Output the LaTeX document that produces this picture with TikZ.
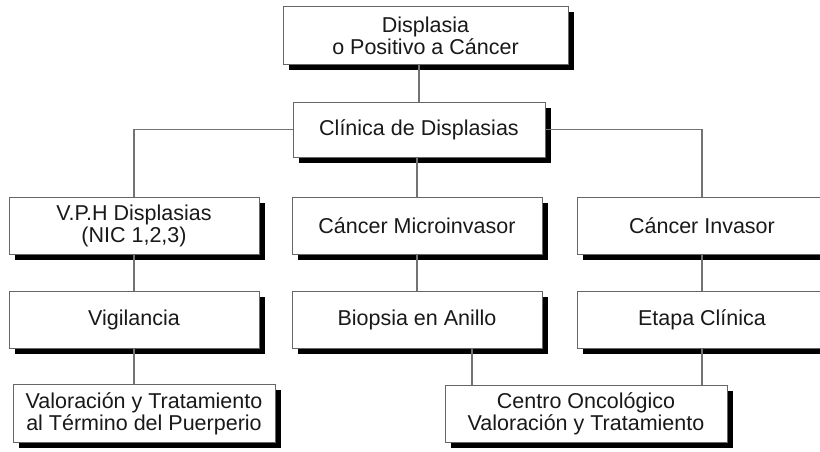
\documentclass[tikz,border=0pt]{standalone}
\usepackage{fontspec}
\setmainfont{Liberation Sans}
\definecolor{gris}{gray}{0.45}
\begin{document}
\begin{tikzpicture}[x=1pt, y=-1pt, node distance=94pt,
  caja/.style={draw=black!60, line width=1pt, fill=white, minimum width=250pt, minimum height=57pt,
    align=center, inner sep=0pt, text=black!90, font=\fontsize{21.5}{22}\selectfont},
  sombra/.style={fill=black, draw=none, inner sep=0pt, minimum width=250pt, minimum height=57pt},
  linea/.style={draw=gris, line width=1.5pt}]
\useasboundingbox (0,0) rectangle (820,451);
% sombras
\node[sombra, minimum width=285pt, minimum height=58pt] (sDP) at (431,41) {};
\node[sombra, minimum width=252pt, minimum height=55pt] (sCD) at (424.5,135) {};
\node[sombra] (sVPH) at (139.5,231) {};
\node[sombra] (sCM) at (422.5,231) {};
\node[sombra] (sCI) at (707.5,231) {};
\node[sombra] (sVI) at (139.5,325) {};
\node[sombra] (sBA) at (422.5,325) {};
\node[sombra] (sEC) at (707.5,325) {};
\node[sombra, minimum width=262pt, minimum height=58pt] (sVT) at (149.5,419) {};
\node[sombra, minimum width=282pt] (sCO) at (591.5,419) {};
% cajas
\node[caja, minimum width=252pt, minimum height=55pt] (CD) at (419,129.5) {Clínica de Displasias};
\node[caja, minimum width=285pt, minimum height=58pt] (DP) [above of=CD, xshift=6.5pt] {Displasia\\o Positivo a Cáncer};
\node[caja] (VPH) at (134,225.5) {V.P.H Displasias\\(NIC 1,2,3)};
\node[caja] (CM) at (417,225.5) {Cáncer Microinvasor};
\node[caja] (CI) at (702,225.5) {Cáncer Invasor};
\node[caja] (VI) [below of=VPH] {Vigilancia};
\node[caja] (BA) [below of=CM] {Biopsia en Anillo};
\node[caja] (EC) [below of=CI] {Etapa Clínica};
\node[caja, minimum width=262pt, minimum height=58pt] (VT) [below of=VI, xshift=10pt] {Valoración y Tratamiento\\al Término del Puerperio};
\node[caja, minimum width=282pt] (CO) at (586,413.5) {Centro Oncológico\\Valoración y Tratamiento};
% lineas
\draw[linea] (DP.south -| CD.north) -- (CD.north);
\draw[linea] (CD.west) -| (VPH.north);
\draw[linea] (CD.east) -| (CI.north);
\draw[linea] (CD.south -| CM.north) -- (CM.north);
\draw[linea] (VPH) -- (VI);
\draw[linea] (CM) -- (BA);
\draw[linea] (CI) -- (EC);
\draw[linea] (VI.south) -- (VI.south |- VT.north);
\draw[linea] ([xshift=55pt]BA.south) -- ([xshift=55pt]BA.south |- CO.north);
\draw[linea] (EC.south) -- (EC.south |- CO.north);
\end{tikzpicture}
\end{document}
